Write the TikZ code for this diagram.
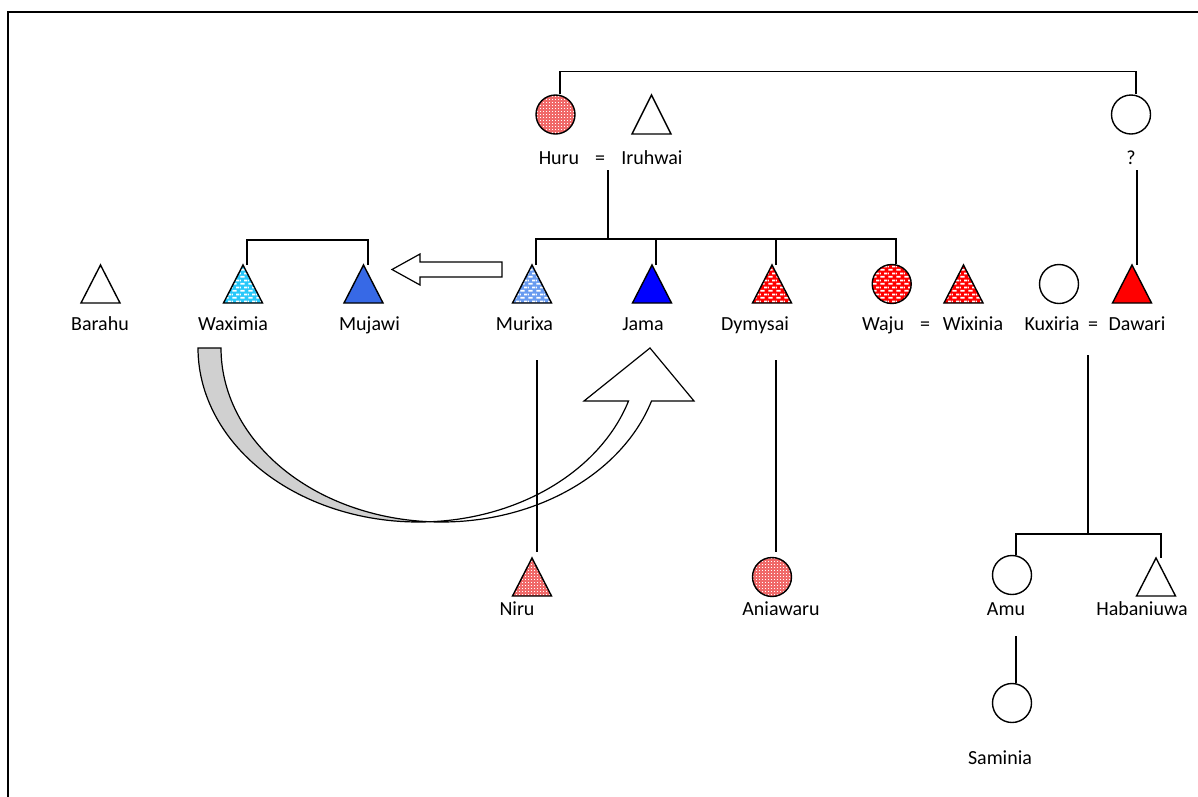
\documentclass[tikz,border=0pt]{standalone}
\usepackage{fontspec}
\setmainfont{Carlito}
\usetikzlibrary{patterns}

% fine white dot grid laid over a pink fill
\pgfdeclarepatternformonly{smalldots}{\pgfpoint{-0.5pt}{-0.5pt}}{\pgfpoint{3pt}{3pt}}{\pgfpoint{3pt}{3pt}}{%
  \pgfpathrectangle{\pgfpointorigin}{\pgfpoint{1pt}{1pt}}\pgfusepath{fill}}
% staggered short white dashes
\pgfdeclarepatternformonly{whitedash}{\pgfpointorigin}{\pgfpoint{8pt}{7pt}}{\pgfpoint{8pt}{7pt}}{%
  \pgfpathrectangle{\pgfpoint{0.5pt}{0.5pt}}{\pgfpoint{4.5pt}{2pt}}%
  \pgfpathrectangle{\pgfpoint{4.5pt}{4pt}}{\pgfpoint{3.5pt}{2pt}}%
  \pgfpathrectangle{\pgfpoint{0pt}{4pt}}{\pgfpoint{1pt}{2pt}}%
  \pgfusepath{fill}}

\definecolor{pinkred}{RGB}{240,105,105}
\definecolor{cyanish}{RGB}{40,200,250}
\definecolor{lightblue}{RGB}{105,155,240}
\definecolor{royalblue}{RGB}{55,105,230}
\definecolor{pureblue}{RGB}{0,0,255}
\definecolor{purered}{RGB}{255,0,0}
\definecolor{bandgrey}{RGB}{208,208,208}

\tikzset{
  ln/.style={line width=1.4pt},
  slot/.style={rectangle, minimum width=39pt, minimum height=38pt, inner sep=0pt, outer sep=0pt},
  tri/.style={draw, line width=1.4pt, line join=miter},
  female/.style={circle, draw, line width=1.4pt, minimum size=39pt, inner sep=0pt},
  dotted pink/.style={preaction={fill=pinkred}, pattern=smalldots, pattern color=white},
  dashed fill/.style={preaction={fill=#1}, pattern=whitedash, pattern color=white},
  name label/.style={anchor=base, inner sep=0pt, font=\fontsize{20}{24}\selectfont},
}

\begin{document}
\begin{tikzpicture}[x=1pt,y=-1pt]
\useasboundingbox (0,0) rectangle (1198,796);
\fill[white] (0,0) rectangle (1198,796);

% frame
\draw[line width=2.2pt] (8,800) -- (8,12) -- (1202,12);

% ---- curved transfer arrow (drawn below the descent lines)
\filldraw[ln, line width=1.2pt, fill=bandgrey]
  plot[domain=180:87, samples=60] ({418.5+220.5*cos(\x)},{348+174*sin(\x)})
  -- plot[domain=93:180, samples=60] ({441.5+220.5*cos(\x)},{348+174*sin(\x)}) -- cycle;
\filldraw[ln, line width=1.2pt, fill=white, line join=miter]
  plot[domain=17.73:87, samples=60] ({418.5+220.5*cos(\x)},{348+174*sin(\x)})
  -- plot[domain=93:17.73, samples=60] ({441.5+220.5*cos(\x)},{348+174*sin(\x)})
  -- (694,401) -- (650,348) -- (584,401) -- cycle;

% ---- generation 1
\node[female, dotted pink] (huru) at (555.5,114.5) {};
\node[slot, minimum height=39pt] (iruhwai) at (651.5,114.5) {};
\draw[tri] (iruhwai.north) -- (iruhwai.south east) -- (iruhwai.south west) -- cycle;
\node[female] (qmark) at (1131,114.5) {};

\node[name label] (lhuru) at (559,164) {Huru};
\node[name label] (eqa) at (600,164) {=};
\node[name label] (liruhwai) at (652,164) {Iruhwai};
\node[name label] (lq) at (1131,164) {?};

% ---- generation 2
\node[slot] (barahu) at (100.5,284) {};
\draw[tri] (barahu.north) -- (barahu.south east) -- (barahu.south west) -- cycle;
\node[slot] (waximia) at (243,284) {};
\draw[tri, dashed fill=cyanish] (waximia.north) -- (waximia.south east) -- (waximia.south west) -- cycle;
\node[slot] (mujawi) at (363.5,284) {};
\draw[tri, fill=royalblue] (mujawi.north) -- (mujawi.south east) -- (mujawi.south west) -- cycle;
\node[slot] (murixa) at (532,284) {};
\draw[tri, dashed fill=lightblue] (murixa.north) -- (murixa.south east) -- (murixa.south west) -- cycle;
\node[slot] (jama) at (652,284) {};
\draw[tri, fill=pureblue] (jama.north) -- (jama.south east) -- (jama.south west) -- cycle;
\node[slot] (dymysai) at (772,284) {};
\draw[tri, dashed fill=purered] (dymysai.north) -- (dymysai.south east) -- (dymysai.south west) -- cycle;
\node[female, dashed fill=purered] (waju) at (891.7,284) {};
\node[slot] (wixinia) at (963.5,284) {};
\draw[tri, dashed fill=purered] (wixinia.north) -- (wixinia.south east) -- (wixinia.south west) -- cycle;
\node[female] (kuxiria) at (1059,284) {};
\node[slot] (dawari) at (1132,284) {};
\draw[tri, fill=purered] (dawari.north) -- (dawari.south east) -- (dawari.south west) -- cycle;

\node[name label] (lbarahu) at (100,330) {Barahu};
\node[name label] (lwaximia) at (233,330) {Waximia};
\node[name label] (lmujawi) at (369.5,330) {Mujawi};
\node[name label] (lmurixa) at (524.5,330) {Murixa};
\node[name label] (ljama) at (643,330) {Jama};
\node[name label] (ldymysai) at (755,330) {Dymysai};
\node[name label] (lwaju) at (883,330) {Waju};
\node[name label] (eqb) at (925,330) {=};
\node[name label] (lwixinia) at (973,330) {Wixinia};
\node[name label] (lkuxiria) at (1052,330) {Kuxiria};
\node[name label] (eqc) at (1093,330) {=};
\node[name label] (ldawari) at (1137,330) {Dawari};

% ---- generation 3
\node[slot] (niru) at (532,577) {};
\draw[tri, dotted pink] (niru.north) -- (niru.south east) -- (niru.south west) -- cycle;
\node[female, dotted pink] (aniawaru) at (772,577) {};
\node[female] (amu) at (1012,575) {};
\node[slot] (habaniuwa) at (1156,577) {};
\draw[tri] (habaniuwa.north) -- (habaniuwa.south east) -- (habaniuwa.south west) -- cycle;
\node[female] (saminia) at (1012,703) {};

\node[name label] (lniru) at (517,615) {Niru};
\node[name label] (laniawaru) at (781,615) {Aniawaru};
\node[name label] (lamu) at (1006,615) {Amu};
\node[name label] (lhabaniuwa) at (1142,615) {Habaniuwa};
\node[name label] (lsaminia) at (1000,764) {Saminia};

% ---- line ends below the labels
\coordinate (m1) at (608,170);
\coordinate (sibs1) at (608,239);
\coordinate (qtop) at (1137,170);
\coordinate (nirutop) at (537,360);
\coordinate (aniatop) at (776,360);
\coordinate (m2) at (1088,355);
\coordinate (sibs2) at (1088,534);
\coordinate (amutop) at (1016,636);

% ---- connectors
\draw[ln] ([xshift=4.5pt]huru.north) -- ++(0,-23) -| ([xshift=5pt]qmark.north);
\draw[ln] (m1) -- (sibs1);
\draw[ln] ([xshift=4pt]murixa.north) -- ([xshift=4pt]murixa.north |- sibs1)
  -- ([xshift=4.3pt]waju.north |- sibs1) -- ([xshift=4.3pt]waju.north);
\draw[ln] ([xshift=4pt]jama.north) -- ([xshift=4pt]jama.north |- sibs1);
\draw[ln] ([xshift=4pt]dymysai.north) -- ([xshift=4pt]dymysai.north |- sibs1);
\draw[ln] ([xshift=4pt]waximia.north) -- ++(0,-25) -| ([xshift=4.5pt]mujawi.north);
\draw[ln] (qtop) -- ([xshift=5pt]dawari.north);
\draw[ln, shorten >=6pt] (nirutop) -- (nirutop |- niru.north);
\draw[ln, shorten >=5pt] (aniatop) -- (aniatop |- aniawaru.north);
\draw[ln] (m2) -- (sibs2);
\draw[ln] ([xshift=4pt]amu.north) -- ([xshift=4pt]amu.north |- sibs2)
  -- ([xshift=5pt]habaniuwa.north |- sibs2) -- ([xshift=5pt]habaniuwa.north);
\draw[ln] (amutop) -- ([xshift=4pt]saminia.north);

% ---- block arrow from Murixa towards Mujawi
\draw[ln, line width=1.2pt, fill=white, line join=miter]
  (392,269.5) -- (420,254) -- (420,262) -- (502,262) -- (502,277) -- (420,277) -- (420,285) -- cycle;

\end{tikzpicture}
\end{document}
